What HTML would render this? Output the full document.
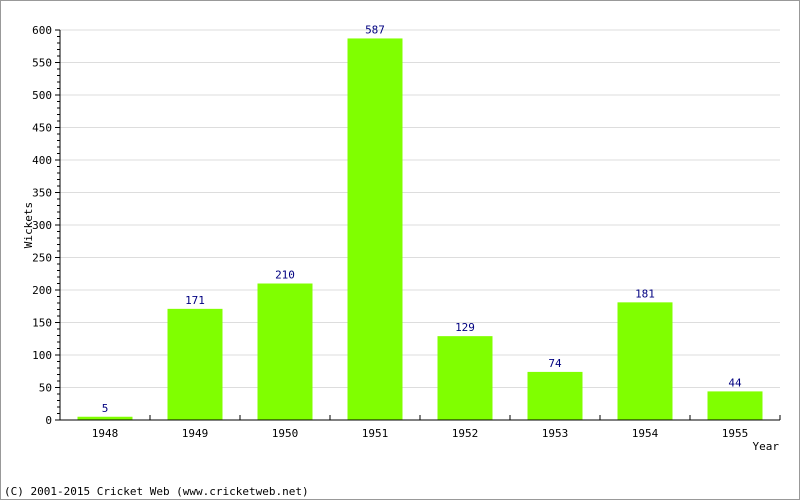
<!DOCTYPE html>
<html><head><meta charset="utf-8"><style>
body{margin:0;background:#fff}
svg{display:block;font-family:"DejaVu Sans Mono","Liberation Mono",monospace}
</style></head><body>
<svg id="chart" width="800" height="500">
<rect x="0.5" y="0.5" width="799" height="499" fill="#fff" stroke="#999"/>
<g id="grid"></g><g id="bars"></g><g id="axes"></g>
<text x="32" y="225" font-size="11" text-anchor="middle" transform="rotate(-90 32 225)">Wickets</text>
<text x="779" y="450" font-size="11" text-anchor="end">Year</text>
<text x="4" y="495" font-size="11">(C) 2001-2015 Cricket Web (www.cricketweb.net)</text>
</svg>
<script>
const categories=["1948","1949","1950","1951","1952","1953","1954","1955"];
const values=[5,171,210,587,129,74,181,44];
const yTicks=[0,50,100,150,200,250,300,350,400,450,500,550,600];
const NS="http://www.w3.org/2000/svg";
const x0=60,x1=780,y0=420,y1=30,yMax=600;
const band=(x1-x0)/categories.length,bw=55;
const y=v=>y0-(v/yMax)*(y0-y1);
const xc=i=>x0+band*(i+0.5);
function mk(tag,attrs,parent,text){const e=document.createElementNS(NS,tag);for(const k in attrs)e.setAttribute(k,attrs[k]);if(text!=null)e.textContent=text;document.getElementById(parent).appendChild(e);return e;}
yTicks.forEach(t=>{
 if(t>0){const g=mk('line',{x1:x0,x2:x1,y1:y(t),y2:y(t),stroke:'#ddd'},'grid');
 
 }
 const tk=mk('line',{x1:x0-5,x2:x0,y1:y(t),y2:y(t),stroke:'#000'},'axes');
 
 
 const lb=mk('text',{x:x0-8,y:y(t)+4,'font-size':11,'text-anchor':'end'},'axes',t);
 
 
});
for(let v=10;v<yMax;v+=10){if(v%50===0)continue;
 const m=mk('line',{x1:x0-3,x2:x0,y1:y(v),y2:y(v),stroke:'#000'},'axes');
 
 }
categories.forEach((c,i)=>{
 const v=values[i];
 const r=mk('rect',{x:xc(i)-bw/2,y:y(v),width:bw,height:y0-y(v),fill:'#80ff00'},'bars');
 
 
 const vl=mk('text',{x:xc(i),y:y(v)-5,'font-size':11,'text-anchor':'middle',fill:'#000080'},'bars',v);
 
 
 const xl=mk('text',{x:xc(i),y:y0+17,'font-size':11,'text-anchor':'middle'},'axes',c);
 
 
 const xt=mk('line',{x1:x0+band*(i+1),x2:x0+band*(i+1),y1:y0-5,y2:y0,stroke:'#000'},'axes');
 
 
});
const ya=mk('line',{x1:x0,x2:x0,y1:y1,y2:y0,stroke:'#000'},'axes');


const xa=mk('line',{x1:x0,x2:x1,y1:y0,y2:y0,stroke:'#000'},'axes');


</script>
</body></html>
